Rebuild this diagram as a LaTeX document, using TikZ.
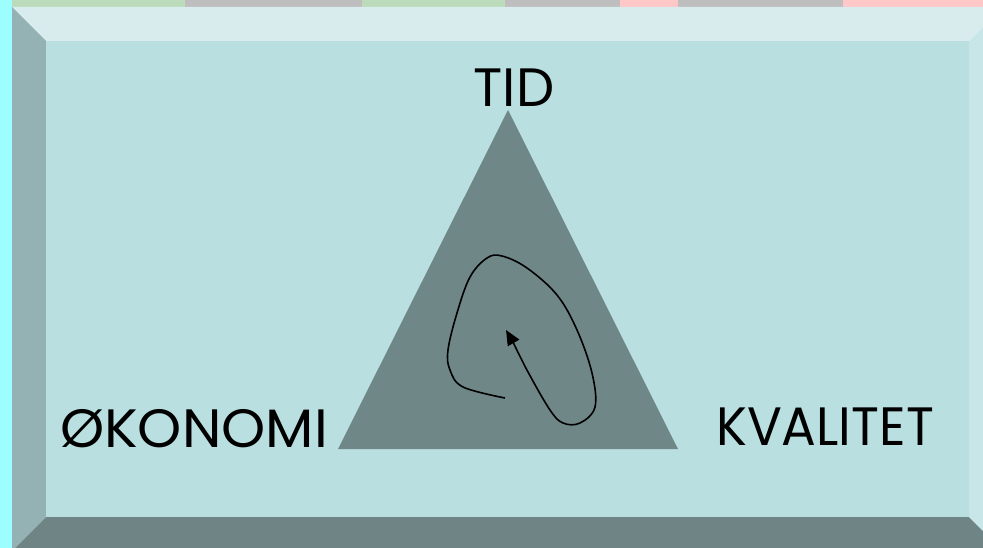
\documentclass[tikz,border=0pt]{standalone}
\usepackage{fontspec}
\setmainfont{Poppins}
\usetikzlibrary{arrows.meta}
\definecolor{face}{HTML}{B9DFE1}
\definecolor{bevtop}{HTML}{D8ECEE}
\definecolor{bevleft}{HTML}{94B2B4}
\definecolor{bevbot}{HTML}{6F8585}
\definecolor{bevright}{HTML}{C8E6E8}
\definecolor{tri}{HTML}{708787}
\definecolor{cyanstrip}{HTML}{9CFEFE}
\definecolor{blobgreen}{HTML}{BCDBBB}
\definecolor{blobgray}{HTML}{BEBEBE}
\definecolor{blobpink}{HTML}{FFC7C7}
\tikzset{label text/.style={font=\fontsize{54}{56}\selectfont, text=black, inner sep=0pt}}
\begin{document}
\begin{tikzpicture}[x=1pt,y=-1pt]
\useasboundingbox (0,0) rectangle (983,548);
% top strip
\fill[blobgray] (0,0) rectangle (983,8);
\fill[blobgreen] (12,0) rectangle (185,8);
\fill[blobgreen] (362,0) rectangle (505,8);
\fill[blobpink] (620,0) rectangle (678,8);
\fill[blobpink] (843,0) rectangle (983,8);
% left cyan strip
\fill[cyanstrip] (0,0) rectangle (12,548);
% bevel frame
\fill[bevtop] (12,7) -- (1003,7) -- (969,41) -- (46,41) -- cycle;
\fill[bevleft] (12,7) -- (46,41) -- (46,517) -- (12,551) -- cycle;
\fill[bevbot] (12,551) -- (46,517) -- (969,517) -- (1003,551) -- cycle;
\fill[bevright] (1003,7) -- (969,41) -- (969,517) -- (1003,551) -- cycle;
\fill[face] (46,41) rectangle (969,517);
% triangle
\coordinate (apex) at (508,110);
\coordinate (bl) at (338,449);
\coordinate (br) at (678,449);
\fill[tri] (apex) -- (bl) -- (br) -- cycle;
% labels
\node[label text, anchor=base] (tid) at (514,107) {TID};
\node[label text, anchor=base west, xscale=1.04, transform shape] (oko) at (60,447) {ØKONOMI};
\node[label text, anchor=base west, xscale=0.955, transform shape] (kval) at (716,445) {KVALITET};
% spiral
\coordinate (tip) at (506,330);
\draw[line width=1.6pt, -{Triangle[length=15pt,width=13pt]}]
  plot[smooth, tension=0.6] coordinates {(505,398) (463,387) (450,370) (448,350) (457,313) (470,277) (487,258) (502,256) (527,268) (557,295) (577,330) (592,373) (595,407) (580,423) (563,423) (550,410) (528,372) (513,342)} -- (tip);
\end{tikzpicture}
\end{document}
